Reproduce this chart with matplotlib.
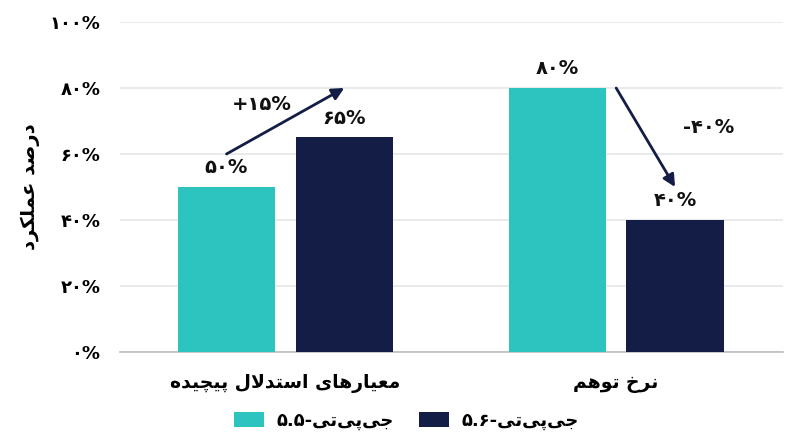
import matplotlib
matplotlib.use('Agg')
import matplotlib.pyplot as plt
import numpy as np

# ---------------- data ----------------
categories = ['معیارهای استدلال پیچیده', 'نرخ توهم']
series_names = ['جی‌پی‌تی-۵.۵', 'جی‌پی‌تی-۵.۶']
gpt55 = [50, 80]
gpt56 = [65, 40]
value_labels_55 = ['۵۰%', '۸۰%']
value_labels_56 = ['۶۵%', '۴۰%']
change_labels = ['+۱۵%', '-۴۰%']
yticks = [0, 20, 40, 60, 80, 100]
ytick_labels = ['۰%', '۲۰%', '۴۰%', '۶۰%', '۸۰%', '۱۰۰%']
ylabel = 'درصد عملکرد'

TEAL = '#2DC4C0'
NAVY = '#131D45'

# ---------------- minimal Persian shaping (logical -> visual) ----------------
FORMS = {
    '\u0627': ('\uFE8D', '\uFE8E', None, None),
    '\u0628': ('\uFE8F', '\uFE90', '\uFE91', '\uFE92'),
    '\u067E': ('\uFB56', '\uFB57', '\uFB58', '\uFB59'),
    '\u062A': ('\uFE95', '\uFE96', '\uFE97', '\uFE98'),
    '\u062C': ('\uFE9D', '\uFE9E', '\uFE9F', '\uFEA0'),
    '\u0686': ('\uFB7A', '\uFB7B', '\uFB7C', '\uFB7D'),
    '\u062E': ('\uFEA5', '\uFEA6', '\uFEA7', '\uFEA8'),
    '\u062F': ('\uFEA9', '\uFEAA', None, None),
    '\u0631': ('\uFEAD', '\uFEAE', None, None),
    '\u0633': ('\uFEB1', '\uFEB2', '\uFEB3', '\uFEB4'),
    '\u0635': ('\uFEB9', '\uFEBA', '\uFEBB', '\uFEBC'),
    '\u0639': ('\uFEC9', '\uFECA', '\uFECB', '\uFECC'),
    '\u06A9': ('\uFB8E', '\uFB8F', '\uFB90', '\uFB91'),
    '\u0644': ('\uFEDD', '\uFEDE', '\uFEDF', '\uFEE0'),
    '\u0645': ('\uFEE1', '\uFEE2', '\uFEE3', '\uFEE4'),
    '\u0646': ('\uFEE5', '\uFEE6', '\uFEE7', '\uFEE8'),
    '\u0647': ('\uFEE9', '\uFEEA', '\uFEEB', '\uFEEC'),
    '\u0648': ('\uFEED', '\uFEEE', None, None),
    '\u06CC': ('\uFBFC', '\uFBFD', '\uFBFE', '\uFBFF'),
}


def shape(word):
    tokens = []
    i = 0
    while i < len(word):
        c = word[i]
        if c == '\u0644' and i + 1 < len(word) and word[i + 1] == '\u0627':
            tokens.append('LA')
            i += 2
        else:
            tokens.append(c)
            i += 1

    def joins_left(t):
        if t == 'LA':
            return False
        f = FORMS.get(t)
        return f is not None and f[2] is not None

    def joins_right(t):
        return t == 'LA' or t in FORMS

    out = []
    for k, t in enumerate(tokens):
        prev = tokens[k - 1] if k > 0 else None
        nxt = tokens[k + 1] if k + 1 < len(tokens) else None
        jp = prev is not None and joins_left(prev) and joins_right(t)
        jn = nxt is not None and joins_left(t) and joins_right(nxt)
        if t == 'LA':
            out.append('\uFEFC' if jp else '\uFEFB')
        elif t in FORMS:
            f = FORMS[t]
            if jp and jn:
                out.append(f[3])
            elif jp:
                out.append(f[1])
            elif jn:
                out.append(f[2])
            else:
                out.append(f[0])
        elif t == '\u200C':
            continue
        else:
            out.append(t)
    return out


LTR_CHARS = set('۰۱۲۳۴۵۶۷۸۹0123456789.%+')


def visual(s):
    glyphs = shape(s)
    runs = []
    for g in glyphs:
        ltr = g in LTR_CHARS
        if runs and runs[-1][0] == ltr:
            runs[-1][1].append(g)
        else:
            runs.append([ltr, [g]])
    res = []
    for ltr, gs in reversed(runs):
        res.append(''.join(gs) if ltr else ''.join(reversed(gs)))
    return ''.join(res)


# ---------------- plot ----------------
plt.rcParams['font.family'] = ['DejaVu Sans']
plt.rcParams['font.weight'] = 'bold'

fig = plt.figure(figsize=(8, 4.47), dpi=100)
ax = fig.add_axes([0.15, 0.2125, 0.829, 0.7383])

x = np.arange(len(categories))
w = 0.294
off = 0.178
b1 = ax.bar(x - off, gpt55, w, color=TEAL, label=visual(series_names[0]), zorder=3)
b2 = ax.bar(x + off, gpt56, w, color=NAVY, label=visual(series_names[1]), zorder=3)

for xi, v, lab in zip(x - off, gpt55, value_labels_55):
    ax.annotate(lab, (xi, v), xytext=(0, 7), textcoords='offset points',
                ha='center', va='bottom', fontsize=14, fontweight='bold', color='#111111')
for xi, v, lab in zip(x + off, gpt56, value_labels_56):
    ax.annotate(lab, (xi, v), xytext=(0, 7), textcoords='offset points',
                ha='center', va='bottom', fontsize=14, fontweight='bold', color='#111111')

# change arrows
ax.annotate('', xy=(x[0] + off, 80), xytext=(x[0] - off, 60),
            arrowprops=dict(arrowstyle='-|>', color=NAVY, lw=2, mutation_scale=18,
                            shrinkA=0, shrinkB=0), zorder=4)
ax.text(x[0] - 0.07, 75, change_labels[0], ha='center', va='center',
        fontsize=14, fontweight='bold', color='#111111')
ax.annotate('', xy=(x[1] + off, 50), xytext=(x[1], 80),
            arrowprops=dict(arrowstyle='-|>', color=NAVY, lw=2, mutation_scale=18,
                            shrinkA=0, shrinkB=0), zorder=4)
ax.text(x[1] + 0.28, 68, change_labels[1], ha='center', va='center',
        fontsize=14, fontweight='bold', color='#111111')

ax.set_xlim(-0.5, 1.505)
ax.set_ylim(0, 100)
ax.set_yticks(yticks)
ax.set_yticklabels(ytick_labels, fontsize=13, fontweight='bold')
ax.set_xticks(x)
ax.set_xticklabels([visual(c) for c in categories], fontsize=13.5, fontweight='bold')
ax.tick_params(axis='both', length=0)
ax.tick_params(axis='y', pad=14)
ax.tick_params(axis='x', pad=16)
ax.set_ylabel(visual(ylabel), fontsize=14, fontweight='bold')
ax.yaxis.set_label_coords(-0.12, 0.5)

for s in ['top', 'right', 'left']:
    ax.spines[s].set_visible(False)
ax.spines['bottom'].set_color('#BDBDBD')
ax.spines['bottom'].set_linewidth(1.2)
ax.yaxis.grid(True, color='#E6E6E6', linewidth=1.2, zorder=0)
ax.set_axisbelow(True)

fig.legend(handles=[b1, b2], loc='center', bbox_to_anchor=(406 / 800, 1 - 421 / 447),
           ncol=2, frameon=False, prop={'size': 13, 'weight': 'bold'},
           handlelength=1.7, handleheight=0.85, handletextpad=0.65, columnspacing=1.4)

fig.savefig('out.png', dpi=100, facecolor='white')
